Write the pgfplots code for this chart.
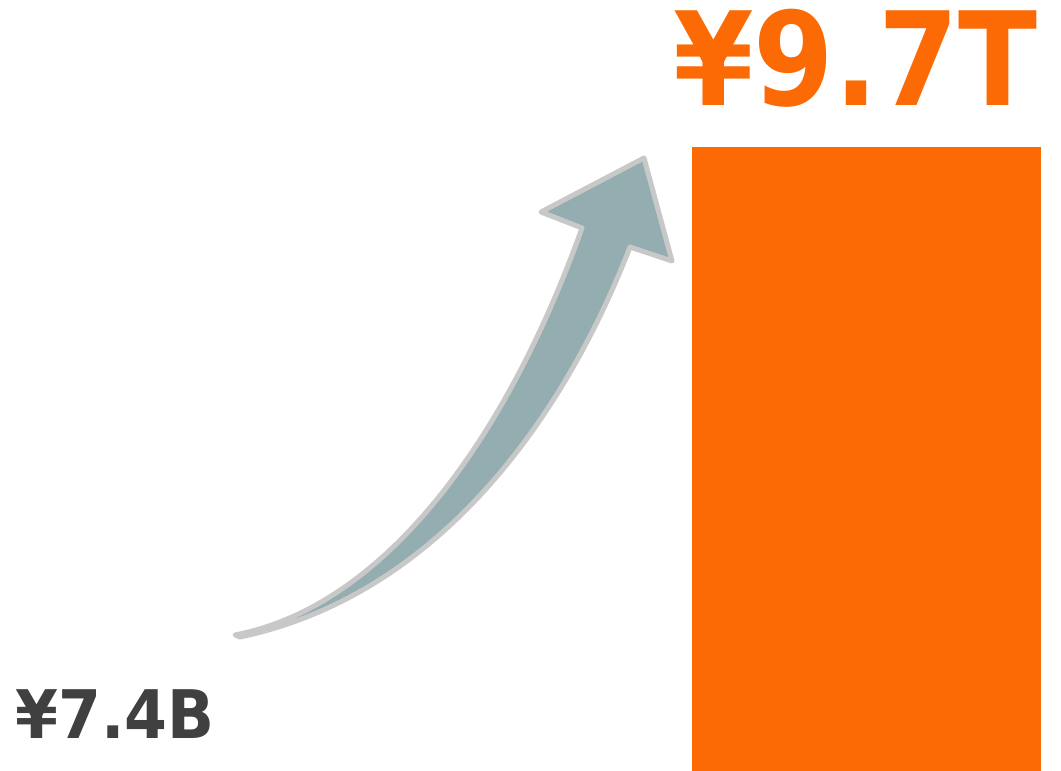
\documentclass[border=0pt]{standalone}
\usepackage{pgfplots}
\pgfplotsset{compat=1.18}
\usepackage{fontspec}
\setmainfont{DejaVu Sans}
\definecolor{barorange}{RGB}{251,106,4}
\definecolor{labgray}{RGB}{64,64,64}
\definecolor{arrowfill}{RGB}{147,173,176}
\definecolor{arrowline}{RGB}{200,200,200}
\begin{document}
\begin{tikzpicture}
\path (0,0) rectangle (1061pt,771pt);
\begin{axis}[at={(0,0)}, anchor=south west,
  width=1061pt, height=771pt, scale only axis, hide axis,
  xmin=-0.153, xmax=1.2588, ymin=0, ymax=11.985,
  ybar, bar width=0.4644, clip=true, clip mode=individual]
\addplot[fill=labgray, draw=none] coordinates {(0,0.0074)};
\addplot[fill=barorange, draw=none, bar shift=0pt] coordinates {(1,9.7)};
\node[anchor=base, text=barorange, inner sep=0pt] at (axis cs:0.985,10.35)
  {\scalebox{0.89}[1]{\fontsize{130}{130}\selectfont\bfseries ¥9.7T}};
\node[anchor=base, text=labgray, inner sep=0pt] at (axis cs:0,0.5)
  {\scalebox{0.92}[1]{\fontsize{67}{67}\selectfont\bfseries ¥7.4B}};
\end{axis}
\begin{scope}[x=1pt, y=-1pt, yshift=771pt]
\filldraw[fill=arrowfill, draw=arrowline, line width=5pt, line join=round]
 (235,635) .. controls (390,605) and (510,430) .. (582,228) -- (541,212) -- (644,158)
 -- (672,261) -- (630,247) .. controls (565,415) and (440,595) .. (240,637) -- cycle;
\end{scope}
\end{tikzpicture}
\end{document}
